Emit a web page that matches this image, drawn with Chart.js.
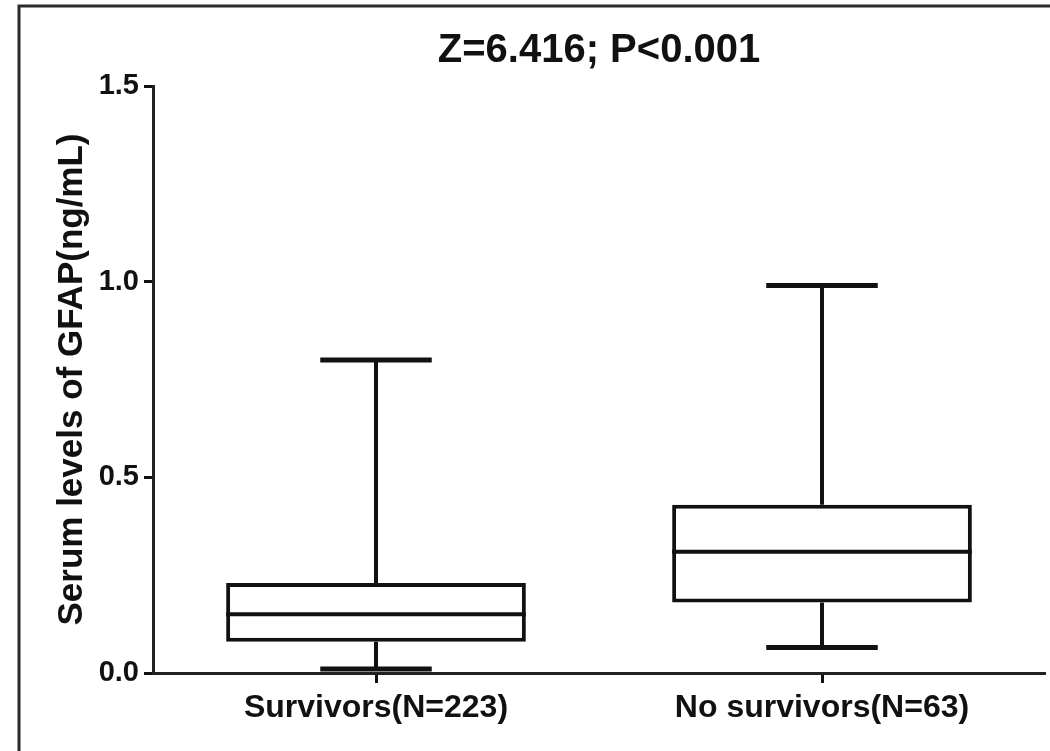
<!DOCTYPE html>
<html>
<head>
<meta charset="utf-8">
<script src="https://cdn.jsdelivr.net/npm/chart.js@4/dist/chart.umd.min.js"></script>
<style>
  html, body { margin: 0; padding: 0; background: #fff; }
  #wrap { width: 1050px; height: 751px; position: relative; }
</style>
</head>
<body>
<div id="wrap"><canvas id="c" width="1050" height="751"></canvas></div>
<script>
// GFAP serum levels by outcome group (box-and-whisker summary)
const categories = ['Survivors(N=223)', 'No survivors(N=63)'];
const minVals    = [0.01, 0.065];
const q1Vals     = [0.08, 0.18];
const medianVals = [0.15, 0.31];
const q3Vals     = [0.23, 0.43];
const maxVals    = [0.80, 0.99];
const yTickValues = [0, 0.5, 1.0, 1.5];
const titleText = 'Z=6.416; P<0.001';
const yAxisTitle = 'Serum levels of GFAP(ng/mL)';

const INK = '#111';
const FONT = "'Liberation Sans', Arial, sans-serif";

// white page with a thin frame on the left and top
const framePlugin = {
  id: 'frame',
  beforeDraw(chart) {
    const ctx = chart.ctx;
    ctx.save();
    ctx.fillStyle = '#fff';
    ctx.fillRect(0, 0, chart.width, chart.height);
    ctx.strokeStyle = '#2b2b2b';
    ctx.lineWidth = 3;
    ctx.beginPath();
    ctx.moveTo(19, chart.height);
    ctx.lineTo(19, 6);
    ctx.lineTo(chart.width, 6);
    ctx.stroke();
    ctx.restore();
  }
};

// medians, whiskers and caps placed through the chart scales
const whiskerPlugin = {
  id: 'whiskers',
  afterDatasetsDraw(chart) {
    const ctx = chart.ctx;
    const xs = chart.scales.x, ys = chart.scales.y;
    const meta = chart.getDatasetMeta(0);
    const step = xs.getPixelForValue(1) - xs.getPixelForValue(0);
    const capHalf = step * 0.125;
    ctx.save();
    ctx.strokeStyle = INK;
    ctx.lineCap = 'butt';
    categories.forEach((_, i) => {
      const cx = xs.getPixelForValue(i);
      const bar = meta.data[i];
      const half = bar.width / 2;
      const yMin = ys.getPixelForValue(minVals[i]);
      const yQ1 = ys.getPixelForValue(q1Vals[i]);
      const yMed = ys.getPixelForValue(medianVals[i]);
      const yQ3 = ys.getPixelForValue(q3Vals[i]);
      const yMax = ys.getPixelForValue(maxVals[i]);
      ctx.lineWidth = 4;
      ctx.beginPath();
      ctx.moveTo(cx, yQ3); ctx.lineTo(cx, yMax);
      ctx.moveTo(cx, yQ1); ctx.lineTo(cx, yMin);
      ctx.moveTo(cx - half, yMed); ctx.lineTo(cx + half, yMed);
      ctx.stroke();
      ctx.lineWidth = 5;
      ctx.beginPath();
      ctx.moveTo(cx - capHalf, yMax); ctx.lineTo(cx + capHalf, yMax);
      ctx.moveTo(cx - capHalf, yMin); ctx.lineTo(cx + capHalf, yMin);
      ctx.stroke();
    });
    ctx.restore();
  }
};

new Chart(document.getElementById('c'), {
  type: 'bar',
  data: {
    labels: categories,
    datasets: [{
      data: categories.map((_, i) => [q1Vals[i], q3Vals[i]]),
      backgroundColor: '#fff',
      borderColor: INK,
      borderWidth: 4,
      borderSkipped: false,
      barPercentage: 0.672,
      categoryPercentage: 1.0
    }]
  },
  options: {
    responsive: false,
    animation: false,
    devicePixelRatio: 1,
    layout: { padding: { left: 20, right: 5, top: 0, bottom: 0 } },
    plugins: {
      legend: { display: false },
      tooltip: { enabled: false },
      title: {
        display: true,
        text: titleText,
        fullSize: false,
        color: INK,
        font: { family: FONT, size: 40, weight: 'bold', lineHeight: 1.2 },
        padding: { top: 27, bottom: 11 }
      }
    },
    scales: {
      x: {
        type: 'category',
        offset: true,
        grid: {
          offset: false,
          drawOnChartArea: false,
          drawTicks: true,
          tickLength: 10,
          tickWidth: 3,
          tickColor: INK
        },
        border: { display: true, color: '#222', width: 3 },
        ticks: {
          color: INK,
          padding: 6,
          maxRotation: 0,
          font: { family: FONT, size: 32, weight: 'bold' }
        },
        afterFit(scale) { scale.height = 78; }
      },
      y: {
        min: 0,
        max: 1.5,
        afterBuildTicks(scale) {
          scale.ticks = yTickValues.map(v => ({ value: v }));
        },
        grid: {
          drawOnChartArea: false,
          drawTicks: true,
          tickLength: 9,
          tickWidth: 3,
          tickColor: INK
        },
        border: { display: true, color: '#222', width: 3 },
        ticks: {
          color: INK,
          padding: 5,
          font: { family: FONT, size: 29, weight: 'bold' },
          callback: (v) => Number(v).toFixed(1)
        },
        title: {
          display: true,
          text: yAxisTitle,
          color: INK,
          font: { family: FONT, size: 35, weight: 'bold', lineHeight: 1.2 },
          padding: { top: 31, bottom: 0 }
        },
        afterFit(scale) { scale.width = 133; }
      }
    }
  },
  plugins: [framePlugin, whiskerPlugin]
});
</script>
</body>
</html>
